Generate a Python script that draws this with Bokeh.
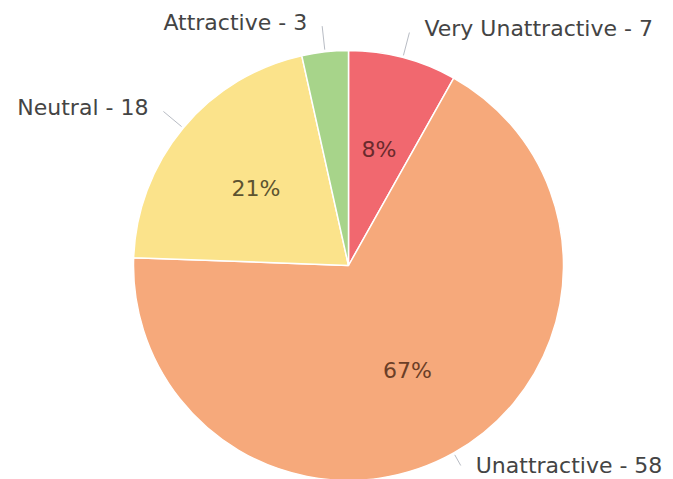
import math
from bokeh.plotting import figure
from bokeh.models import ColumnDataSource, Range1d
from bokeh.core.properties import value
from bokeh.embed import file_html
from bokeh.resources import INLINE

# Data
categories = ["Very Unattractive", "Unattractive", "Neutral", "Attractive"]
counts = [7, 58, 18, 3]
colors = ["#f1686f", "#f6a97b", "#fbe38b", "#a7d48a"]
pct_colors = ["#6a2a2d", "#6b3f27", "#5c5330", "#3f5a33"]

total = sum(counts)
R = 215.0
FONT = value("DejaVu Sans")
Y_MIN, Y_MAX = -214, 265

start, end, mids, labels, pct_text = [], [], [], [], []
cum = 0.0
for c, cat in zip(counts, categories):
    f0 = cum / total
    cum += c
    f1 = cum / total
    # clockwise from 12 o'clock
    start.append(math.pi / 2 - f1 * 2 * math.pi)
    end.append(math.pi / 2 - f0 * 2 * math.pi)
    mids.append(math.pi / 2 - (f0 + f1) / 2 * 2 * math.pi)
    labels.append(f"{cat} - {c}")
    pct_text.append(f"{round(100 * c / total)}%")

p = figure(width=673, height=479, output_backend="svg", toolbar_location=None,
           x_range=Range1d(-348, 325), y_range=Range1d(Y_MIN, Y_MAX),
           min_border=0)
p.axis.visible = False
p.grid.visible = False
p.outline_line_color = None
p.background_fill_color = "white"

src = ColumnDataSource(dict(start=start, end=end, color=colors))
p.wedge(x=0, y=0, radius=R, start_angle="start", end_angle="end",
        fill_color="color", line_color="white", line_width=1.5, source=src)

# percent labels inside slices (only where slice is large enough)
px, py, pt, pc = [], [], [], []
for m, t, col, c in zip(mids, pct_text, pct_colors, counts):
    if c / total >= 0.05:
        px.append(0.56 * R * math.cos(m))
        py.append(0.56 * R * math.sin(m))
        pt.append(t)
        pc.append(col)
p.text(x=px, y=py, text=pt, text_color=pc, text_font=FONT,
       text_font_size="22px", text_align="center", text_baseline="middle")

# leader lines and outer labels
x0, y0, x1, y1 = [], [], [], []
for m in mids:
    r_out = 1.12 * R
    if math.sin(m) < 0:
        # keep the label inside the bottom edge
        r_out = min(r_out, (Y_MIN + 14) / math.sin(m))
    x0.append(1.01 * R * math.cos(m))
    y0.append(1.01 * R * math.sin(m))
    x1.append(r_out * math.cos(m))
    y1.append(r_out * math.sin(m))
p.segment(x0=x0, y0=y0, x1=x1, y1=y1, line_color="#b8bcc4", line_width=1)

right = [math.cos(m) >= 0 for m in mids]
lx = [x + (15 if r else -15) for x, r in zip(x1, right)]
ly = [y + (4 if math.sin(m) > 0 else 0) for y, m in zip(y1, mids)]
align = ["left" if r else "right" for r in right]
p.text(x=lx, y=ly, text=labels, text_align=align, text_baseline="middle",
       text_color="#444444", text_font=FONT, text_font_size="22px")

open("out.html", "w").write(file_html(p, INLINE))
